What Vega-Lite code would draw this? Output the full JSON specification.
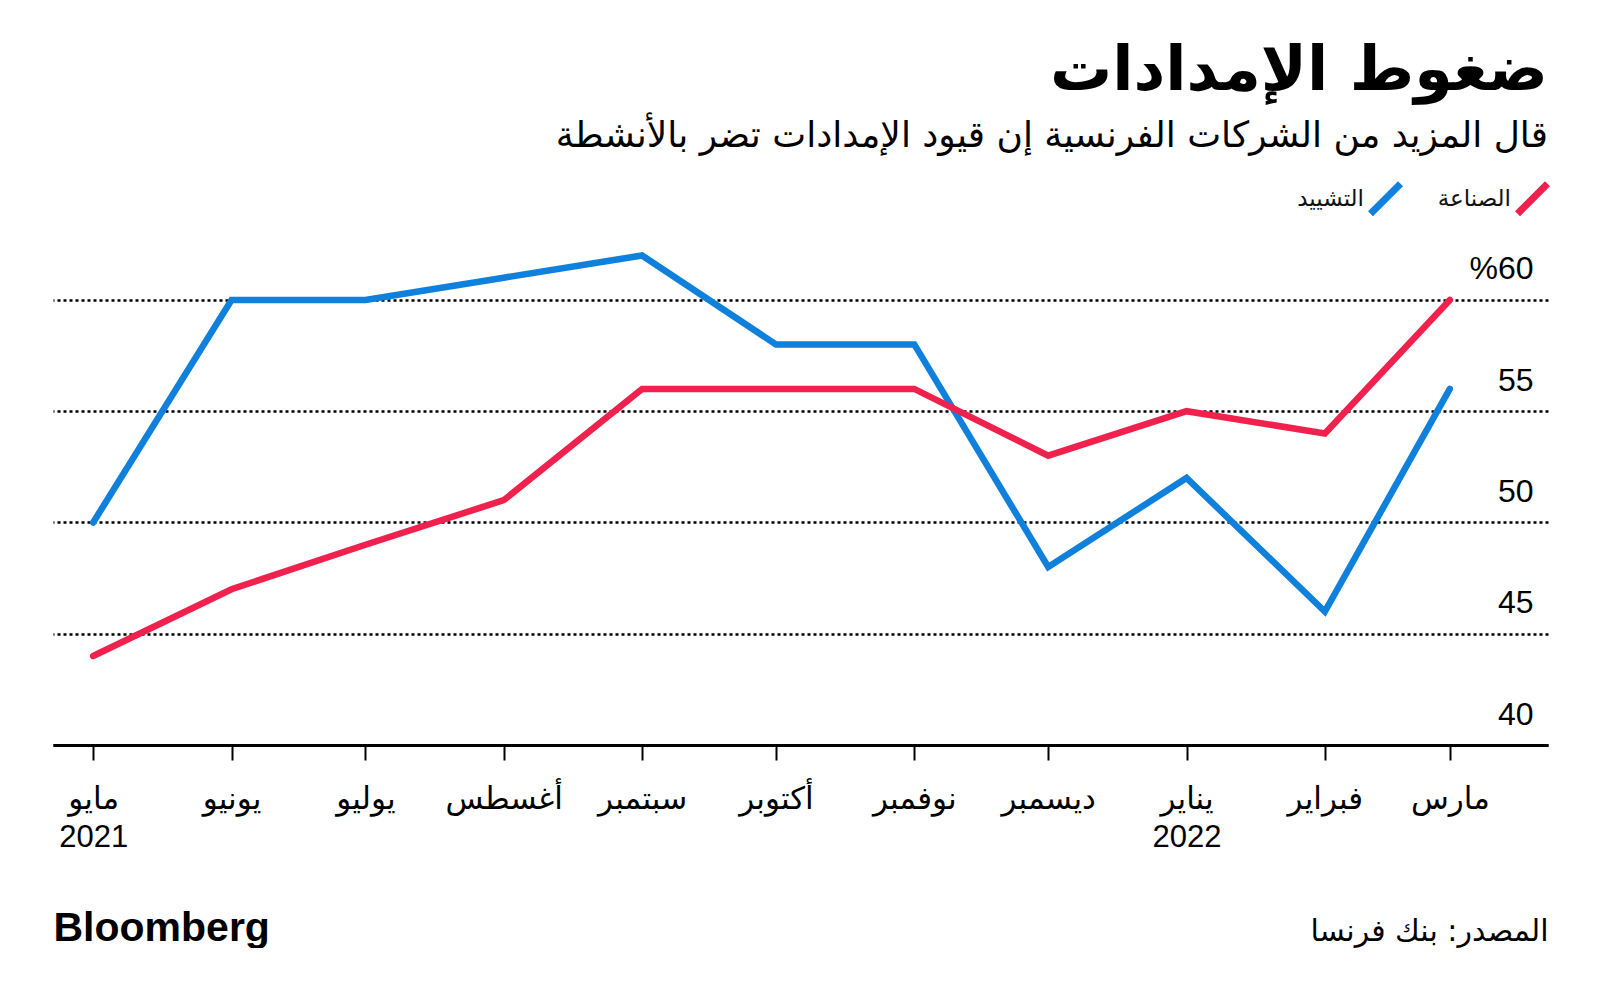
{
  "$schema": "https://vega.github.io/schema/vega-lite/v6.json",
  "width": 1495,
  "height": 551,
  "padding": {"left": 53, "top": 40, "right": 52, "bottom": 0},
  "background": "white",
  "title": {
    "text": "ضغوط الإمدادات",
    "subtitle": "قال المزيد من الشركات الفرنسية إن قيود الإمدادات تضر بالأنشطة",
    "anchor": "end",
    "frame": "group",
    "font": "DejaVu Sans",
    "fontSize": 62,
    "fontWeight": "bold",
    "color": "#000000",
    "subtitleFont": "DejaVu Sans",
    "subtitleFontSize": 36,
    "subtitleColor": "#000000",
    "subtitlePadding": 16,
    "offset": 25
  },
  "data": {
    "values": [
      {"date": "2021-05-01", "series": "التشييد", "value": 50},
      {"date": "2021-06-01", "series": "التشييد", "value": 60},
      {"date": "2021-07-01", "series": "التشييد", "value": 60},
      {"date": "2021-08-01", "series": "التشييد", "value": 61},
      {"date": "2021-09-01", "series": "التشييد", "value": 62},
      {"date": "2021-10-01", "series": "التشييد", "value": 58},
      {"date": "2021-11-01", "series": "التشييد", "value": 58},
      {"date": "2021-12-01", "series": "التشييد", "value": 48},
      {"date": "2022-01-01", "series": "التشييد", "value": 52},
      {"date": "2022-02-01", "series": "التشييد", "value": 46},
      {"date": "2022-03-01", "series": "التشييد", "value": 56},
      {"date": "2021-05-01", "series": "الصناعة", "value": 44},
      {"date": "2021-06-01", "series": "الصناعة", "value": 47},
      {"date": "2021-07-01", "series": "الصناعة", "value": 49},
      {"date": "2021-08-01", "series": "الصناعة", "value": 51},
      {"date": "2021-09-01", "series": "الصناعة", "value": 56},
      {"date": "2021-10-01", "series": "الصناعة", "value": 56},
      {"date": "2021-11-01", "series": "الصناعة", "value": 56},
      {"date": "2021-12-01", "series": "الصناعة", "value": 53},
      {"date": "2022-01-01", "series": "الصناعة", "value": 55},
      {"date": "2022-02-01", "series": "الصناعة", "value": 54},
      {"date": "2022-03-01", "series": "الصناعة", "value": 60}
    ]
  },
  "mark": {"type": "line", "strokeWidth": 6.5, "strokeCap": "round", "strokeJoin": "miter"},
  "encoding": {
    "x": {
      "field": "date",
      "type": "temporal",
      "scale": {"type": "utc", "domain": [{"year": 2021, "month": 4, "date": 22, "utc": true}, {"year": 2022, "month": 3, "date": 23, "utc": true}]},
      "axis": {
        "title": "Bloomberg",
        "titleAnchor": "start",
        "titleAlign": "left",
        "titleBaseline": "middle",
        "titleY": 183,
        "titleFont": "Liberation Sans",
        "titleFontWeight": "bold",
        "titleFontSize": 41,
        "titleColor": "#000000",
        "tickCount": {"interval": "month", "step": 1},
        "grid": false,
        "domain": true,
        "domainColor": "#000000",
        "domainWidth": 3,
        "ticks": true,
        "tickColor": "#000000",
        "tickWidth": 2,
        "tickSize": 15,
        "labelPadding": 24,
        "labelFont": "Liberation Sans, DejaVu Sans",
        "labelFontSize": 31,
        "labelColor": "#000000",
        "labelLineHeight": 38,
        "labelFlush": false,
        "labelOverlap": false,
        "labelExpr": "utcmonth(datum.value) == 4 && utcyear(datum.value) == 2021 ? ['مايو', '2021'] : utcmonth(datum.value) == 0 ? ['يناير', '' + utcyear(datum.value)] : ['يناير','فبراير','مارس','أبريل','مايو','يونيو','يوليو','أغسطس','سبتمبر','أكتوبر','نوفمبر','ديسمبر'][utcmonth(datum.value)]"
      }
    },
    "y": {
      "field": "value",
      "type": "quantitative",
      "scale": {"domain": [40, 64.76], "nice": false, "zero": false},
      "axis": {
        "orient": "right",
        "values": [40, 45, 50, 55, 60],
        "title": "المصدر: بنك فرنسا",
        "titleAngle": 0,
        "titleAlign": "right",
        "titleBaseline": "middle",
        "titleX": 0,
        "titleY": 737,
        "titleFont": "DejaVu Sans",
        "titleFontWeight": "normal",
        "titleFontSize": 30,
        "titleColor": "#000000",
        "domain": false,
        "ticks": false,
        "grid": true,
        "gridColor": "#000000",
        "gridWidth": 2.5,
        "gridDash": [3, 3],
        "labelAlign": "right",
        "labelBaseline": "alphabetic",
        "labelPadding": -15,
        "labelOffset": -21,
        "labelFont": "Liberation Sans",
        "labelFontSize": 32,
        "labelColor": "#000000",
        "labelExpr": "datum.value == 60 ? '%60' : datum.label"
      }
    },
    "color": {
      "field": "series",
      "type": "nominal",
      "scale": {"domain": ["التشييد", "الصناعة"], "range": ["#0f80db", "#f0214d"]},
      "legend": {
        "title": null,
        "orient": "top-right",
        "direction": "horizontal",
        "offset": -14,
        "padding": 0,
        "symbolType": "M-1,1L1,-1",
        "symbolSize": 900,
        "symbolStrokeWidth": 7,
        "symbolFillColor": "transparent",
        "labelAlign": "right",
        "labelOffset": -40,
        "labelFont": "DejaVu Sans",
        "labelFontSize": 23,
        "labelColor": "#111111",
        "labelLimit": 300,
        "columnPadding": 22
      }
    }
  },
  "config": {
    "view": {"stroke": null}
  }
}
